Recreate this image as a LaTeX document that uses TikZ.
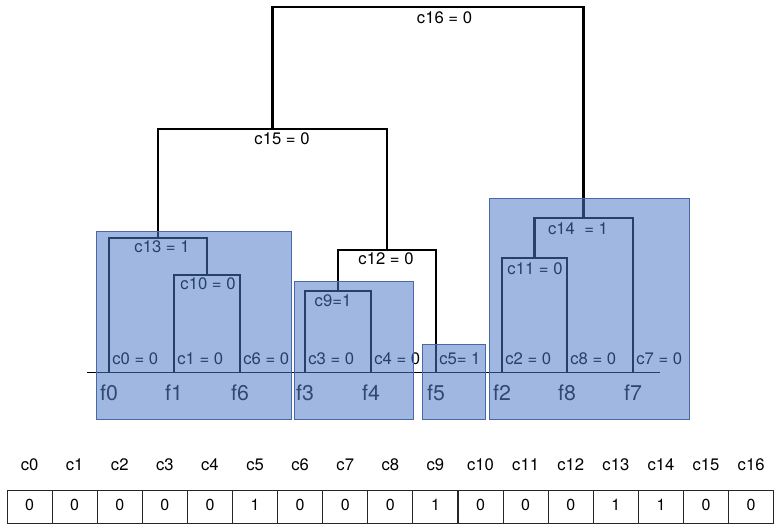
\documentclass[tikz,border=0pt]{standalone}
\usepackage{fontspec}
\setmainfont{TeX Gyre Heros}

\definecolor{clusterblue}{RGB}{75,121,198}
\definecolor{clusterline}{RGB}{72,104,168}
\definecolor{leafgray}{RGB}{20,20,20}

\tikzset{
  branch/.style={line width=2pt, black},
  clabel/.style={font=\fontsize{12.5}{14}\selectfont, inner sep=0pt},
  leaflabel/.style={clabel, anchor=west},
  fname/.style={font=\fontsize{16}{18}\selectfont, text=leafgray, inner sep=0pt},
  cluster/.style={fill=clusterblue, fill opacity=0.53, draw=clusterline, line width=0.75pt},
  bitcell/.style={draw=black!85, line width=0.75pt, minimum width=33.8pt,
    minimum height=24.75pt, inner sep=0pt, text depth=3pt,
    font=\fontsize{12}{14}\selectfont},
}

\begin{document}
\begin{tikzpicture}[x=0.75pt, y=-0.75pt]
  \useasboundingbox (0,0) rectangle (782,531);

  % axis and leaves
  \coordinate (axl) at (87,372);
  \coordinate (axr) at (660,372);
  \draw [line width=0.75pt] (axl) -- (axr);
  \foreach \name/\x in {f0/109,f1/174,f6/240,f3/305,f4/371,f5/436,f2/502,f8/567,f7/633}
    \coordinate (\name) at (\x,372);

  % merge points (top middle of each bracket)
  \coordinate (m10) at (207,275);
  \coordinate (m13) at (158,238);
  \coordinate (m9) at (338,291);
  \coordinate (m12) at (387,250);
  \coordinate (m15) at (272.5,129);
  \coordinate (m11) at (534.5,258);
  \coordinate (m14) at (583.5,218);
  \coordinate (m16) at (428,7);

  % brackets
  \draw [branch] (f1) |- (m10) -| (f6);
  \draw [branch] (f0) |- (m13) -| (m10);
  \draw [branch] (f3) |- (m9) -| (f4);
  \draw [branch] (m9) |- (m12) -| (f5);
  \draw [branch] (m13) |- (m15) -| (m12);
  \draw [branch] (f2) |- (m11) -| (f8);
  \draw [branch] (m11) |- (m14) -| (f7);
  \draw [branch] (m15) |- (m16) -| (m14);

  % bracket labels
  \draw (444.5,18) node [clabel] (l16) {c16 = 0};
  \draw (282,138.5) node [clabel] (l15) {c15 = 0};
  \draw (162,247) node [clabel] (l13) {c13 = 1};
  \draw (208,284) node [clabel] (l10) {c10 = 0};
  \draw (333,301) node [clabel] (l9) {c9=1};
  \draw (386,259) node [clabel] (l12) {c12 = 0};
  \draw (578,229) node [clabel] (l14) {c14\ \ = 1};
  \draw (535,269) node [clabel] (l11) {c11 = 0};

  % leaf labels
  \foreach \name/\lab in {f0/{c0 = 0},f1/{c1 = 0},f6/{c6 = 0},f3/{c3 = 0},f4/{c4 = 0},
      f5/{c5= 1},f2/{c2 = 0},f8/{c8 = 0},f7/{c7 = 0}} {
    \draw (\name) ++(3,-13.5) node [leaflabel] (l\name) {\lab};
    \draw (\name) ++(0,21) node [fname] (n\name) {\name};
  }

  % clusters
  \draw [cluster] (96,232) rectangle (291,419);
  \draw [cluster] (294,281) rectangle (413,419);
  \draw [cluster] (422,344) rectangle (485,419);
  \draw [cluster] (489,199) rectangle (689,419);

  % bit vector
  \foreach \v [count=\i from 0] in {0,0,0,0,0,1,0,0,0,1,0,0,0,1,1,0,0} {
    \node [bitcell] (bit\i) at (29.55+45.1*\i,506.5) {\v};
    \node [clabel] (hdr\i) at (29.55+45.1*\i,465) {c\i};
  }
\end{tikzpicture}
\end{document}
